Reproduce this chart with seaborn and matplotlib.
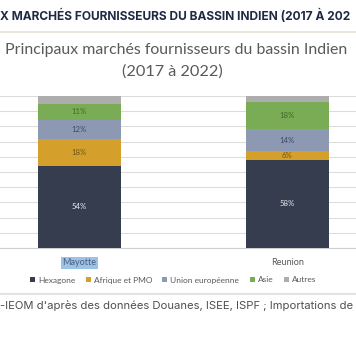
import matplotlib
matplotlib.use("Agg")
import matplotlib.pyplot as plt
import seaborn as sns
import pandas as pd
import numpy as np
from matplotlib.patches import Patch

regions = ["Mayotte", "Reunion"]
markets = ["Hexagone", "Afrique et PMO", "Union européenne", "Asie", "Autres"]
hexagone = [54, 58]
afrique = [18, 6]
ue = [12, 14]
asie = [11, 18]
autres = [5, 4]
labels_shown = ["Hexagone", "Afrique et PMO", "Union européenne", "Asie"]

header = "X MARCHÉS FOURNISSEURS DU BASSIN INDIEN (2017 À 202"
title1 = "Principaux marchés fournisseurs du bassin Indien"
title2 = "(2017 à 2022)"
footer = "-IEOM d'après des données Douanes, ISEE, ISPF ; Importations de"

colors = {"Hexagone": "#353D4F", "Afrique et PMO": "#D4A02B",
          "Union européenne": "#8D99B3", "Asie": "#79AC55", "Autres": "#ADADAD"}
label_colors = {"Hexagone": "#EDEDED", "Afrique et PMO": "#6E5716",
                "Union européenne": "#3E4A66", "Asie": "#3F6A28"}

sns.set_theme(style="white")
plt.rcParams["font.family"] = ["Lato", "DejaVu Sans"]

values = {"Hexagone": hexagone, "Afrique et PMO": afrique,
          "Union européenne": ue, "Asie": asie, "Autres": autres}
df = pd.DataFrame({"region": np.repeat(regions, len(markets)),
                   "market": markets * len(regions),
                   "value": [values[m][i] for i in range(len(regions)) for m in markets]})
df["cum"] = df.groupby("region")["value"].cumsum()
df["bottom"] = df["cum"] - df["value"]

fig = plt.figure(figsize=(3.56, 3.64), dpi=100)
ax = fig.add_axes([-24.5 / 356, (364 - 248) / 364, 416 / 356, 152 / 364])

for m in reversed(markets):
    sub = df[df["market"] == m]
    sns.barplot(data=sub, x="region", y="cum", order=regions, color=colors[m],
                width=0.4, saturation=1, ax=ax, linewidth=0, zorder=3)

for _, r in df.iterrows():
    if r["market"] in labels_shown:
        xi = regions.index(r["region"])
        ax.text(xi, r["bottom"] + r["value"] / 2, f"{r['value']}%", ha="center",
                va="center", fontsize=5.6, color=label_colors[r["market"]], zorder=4)

ax.set_ylim(0, 100)
ax.set_xlim(-0.5, 1.5)
ax.set_yticks(np.arange(0, 101, 10))
ax.yaxis.grid(True, color="#DCDCDC", linewidth=0.8, zorder=0)
ax.set_axisbelow(True)
ax.tick_params(axis="y", left=False, labelleft=False)
ax.tick_params(axis="x", bottom=False, pad=1.5, labelsize=6.5, labelcolor="#595959")
for s in ["top", "right", "left"]:
    ax.spines[s].set_visible(False)
ax.spines["bottom"].set_color("#D0D0D0")
ax.spines["bottom"].set_linewidth(0.8)
ax.set_xlabel("")
ax.set_ylabel("")
lbl = ax.get_xticklabels()[0]
lbl.set_bbox(dict(facecolor="#9CC2E8", edgecolor="none", pad=1.2))
lbl.set_color("#4A5F80")

handles = [Patch(facecolor=colors[m], edgecolor="none") for m in markets]
fig.legend(handles, markets, loc="center", bbox_to_anchor=(0.486, (364 - 280) / 364),
           ncol=5, frameon=False, fontsize=6, handlelength=0.6, handleheight=0.6,
           handletextpad=0.35, columnspacing=1.25, labelcolor="#595959")

fig.text(0.0, (364 - 16) / 364, header, ha="left", va="center", fontsize=8.6,
         fontweight="bold", color="#1E2A45", family=["Inter", "DejaVu Sans"])
fig.add_artist(plt.Line2D([0, 1], [(364 - 32) / 364] * 2, color="#E6E2D8", lw=1.2))
fig.text(176 / 356, (364 - 50) / 364, title1, ha="center", va="center",
         fontsize=11.4, color="#595959")
fig.text(172 / 356, (364 - 72) / 364, title2, ha="center", va="center",
         fontsize=11.7, color="#595959")
fig.add_artist(plt.Line2D([0, 1], [(364 - 294) / 364] * 2, color="#E3E3E3", lw=1.5))
fig.text(0.0, (364 - 306) / 364, footer, ha="left", va="center", fontsize=8.1,
         color="#4F4F4F", family=["Inter", "DejaVu Sans"])

fig.savefig("out.png", dpi=100)
